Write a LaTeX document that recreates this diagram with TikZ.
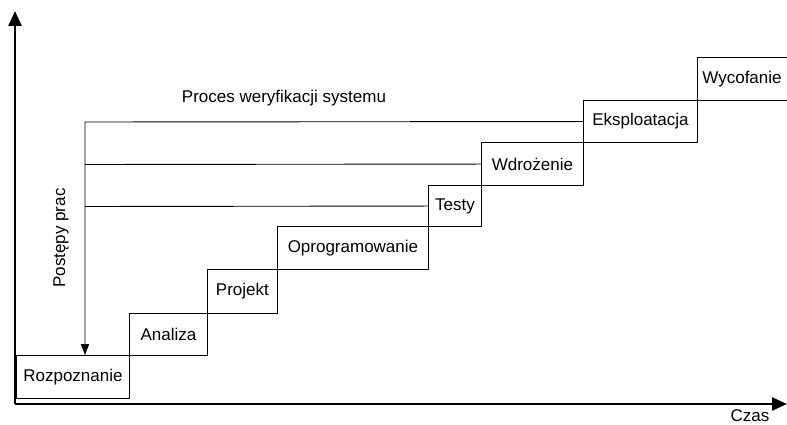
\documentclass[tikz,border=0pt]{standalone}
\usepackage{fontspec}
\setmainfont{Liberation Sans}
\usetikzlibrary{arrows.meta}

\tikzset{
  stage/.style={draw, line width=0.9pt, rectangle, anchor=south west, minimum height=43pt, inner sep=0pt},
  axis/.style={line width=2.4pt, -{Triangle[length=15pt, width=13pt]}},
  link/.style={line width=0.9pt}
}

\begin{document}
\begin{tikzpicture}[x=1pt, y=1pt, font=\fontsize{17}{20}\selectfont]
        \clip (0,0) rectangle (787,425);

        % Axes
        \coordinate (O) at (15, 21);
        \coordinate (Yend) at (15, 414);
        \coordinate (Xend) at (787, 21);
        \draw[axis] (O) -- (Yend);
        \draw[axis] (O) -- (Xend);
        \node (czas) at (750, 9) {Czas};
        \node[rotate=90] (postep) at (61, 187) {Postępy prac};

        % Stages
        \node[stage, minimum width=113pt] (rozp) at (16, 26) {Rozpoznanie};
        \node[stage, minimum width=78pt, minimum height=42.5pt] (anal) at (129, 69) {Analiza};
        \node[stage, minimum width=70pt, minimum height=43.5pt] (proj) at (207, 111.5) {Projekt};
        \node[stage, minimum width=151pt] (oprog) at (277, 155) {Oprogramowanie};
        \node[stage, minimum width=53pt, minimum height=41pt] (testy) at (428, 198) {Testy};
        \node[stage, minimum width=102pt] (wdroz) at (481, 239) {Wdrożenie};
        \node[stage, minimum width=114pt, minimum height=42pt] (eksp) at (583, 282) {Eksploatacja};
        \node[stage, minimum width=120pt] (wyco) at (697, 324) {};
        \node (wycolbl) at (742, 345.5) {Wycofanie};

        % Verification
        \node (proces) at (284, 327) {Proces weryfikacji systemu};
        \coordinate (v1) at (85, 303);
        \coordinate (v2) at (85, 260.5);
        \coordinate (v3) at (85, 218.5);
        \draw[link, -{Triangle[length=11pt, width=8pt]}] (eksp.west) -- (v1) -- (v1 |- rozp.north);
        \draw[link] (v2) -- (wdroz.west);
        \draw[link] (v3) -- (testy.west);
    \end{tikzpicture}
\end{document}
